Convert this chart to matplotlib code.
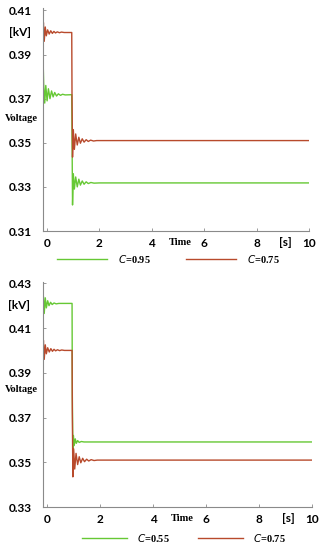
import matplotlib
matplotlib.use("Agg")
import matplotlib.pyplot as plt
from matplotlib.transforms import blended_transform_factory

GREEN = "#66c834"
RED = "#b84a2c"
AXIS = "#8a8a8a"

# time points (s) and voltage (kV)
t_c075 = [-0.15, -0.13, -0.10, -0.06, -0.02, 0.03, 0.09, 0.15, 0.21, 0.27, 0.33,
          0.40, 0.48, 0.56, 0.66, 0.95, 0.96, 0.98, 1.01, 1.05, 1.10, 1.16,
          1.22, 1.28, 1.35, 1.42, 1.50, 1.58, 1.67, 1.78, 1.90, 10.0]
v_c075 = [0.4000, 0.4045, 0.3960, 0.4025, 0.3985, 0.4012, 0.3993, 0.4008, 0.3996,
          0.4005, 0.3998, 0.4003, 0.3999, 0.4002, 0.4000, 0.4000, 0.3720, 0.3435,
          0.3560, 0.3470, 0.3540, 0.3490, 0.3525, 0.3498, 0.3518, 0.3503, 0.3514,
          0.3506, 0.3512, 0.3508, 0.3510, 0.3510]

t_c095 = [-0.15, -0.12, -0.08, -0.04, 0.01, 0.06, 0.12, 0.18, 0.24, 0.30, 0.37,
          0.44, 0.52, 0.60, 0.70, 0.95, 0.96, 0.98, 1.01, 1.05, 1.10, 1.16,
          1.22, 1.28, 1.35, 1.42, 1.50, 1.58, 1.68, 1.80, 2.00, 10.0]
v_c095 = [0.3910, 0.3765, 0.3680, 0.3760, 0.3690, 0.3745, 0.3700, 0.3735, 0.3708,
          0.3728, 0.3712, 0.3722, 0.3715, 0.3720, 0.3717, 0.3718, 0.3550, 0.3218,
          0.3360, 0.3290, 0.3345, 0.3300, 0.3335, 0.3308, 0.3327, 0.3312, 0.3323,
          0.3315, 0.3320, 0.3317, 0.3318, 0.3318]

t_c055 = [-0.15, -0.13, -0.10, -0.06, -0.02, 0.03, 0.08, 0.14, 0.20, 0.27, 0.35,
          0.45, 0.95, 0.96, 0.98, 1.00, 1.03, 1.07, 1.11, 1.16, 1.22, 1.30,
          1.40, 10.0]
v_c055 = [0.4215, 0.4240, 0.4165, 0.4235, 0.4190, 0.4222, 0.4200, 0.4215, 0.4205,
          0.4212, 0.4208, 0.4210, 0.4210, 0.3800, 0.3560, 0.3620, 0.3575, 0.3605,
          0.3585, 0.3597, 0.3589, 0.3593, 0.3591, 0.3591]

x_ticks = [0, 2, 4, 6, 8, 10]
y_ticks_top = [0.31, 0.33, 0.35, 0.37, 0.39, 0.41]
y_ticks_bot = [0.33, 0.35, 0.37, 0.39, 0.41, 0.43]

TICK_FONT = dict(family="Lato", weight="bold", size=8.5)
SERIF_FONT = dict(family="Liberation Serif", weight="bold", size=7.5)


def style_axes(ax, yticks, ylim, kv_y, volt_y):
    ax.set_xlim(-0.15, 10)
    ax.set_ylim(*ylim)
    ax.set_xticks(x_ticks)
    ax.set_yticks(yticks)
    ax.set_xticklabels([str(x) for x in x_ticks], fontdict=TICK_FONT)
    ax.set_yticklabels([f"{y:.2f}" for y in yticks], fontdict=TICK_FONT)
    ax.tick_params(direction="in", length=2.5, width=0.6, color=AXIS, pad=5)
    ax.tick_params(axis="y", pad=8)
    for side in ("top", "right"):
        ax.spines[side].set_visible(False)
    for side in ("left", "bottom"):
        ax.spines[side].set_color(AXIS)
        ax.spines[side].set_linewidth(0.8)
    tr = blended_transform_factory(ax.transAxes, ax.transData)
    ax.text(-0.087, kv_y, "[kV]", transform=tr, ha="center", va="center", **TICK_FONT)
    ax.text(-0.080, volt_y, "Voltage", transform=tr, ha="center", va="center", **SERIF_FONT)
    trx = blended_transform_factory(ax.transData, ax.transAxes)
    ax.text(5.1, -0.052, "Time", transform=trx, ha="center", va="center", **SERIF_FONT)
    ax.text(9.1, -0.052, "[s]", transform=trx, ha="center", va="center", **TICK_FONT)


fig = plt.figure(figsize=(3.25, 5.5), dpi=100)

ax1 = fig.add_axes([0.132, 0.580, 0.819, 0.405])
ax1.plot(t_c095, v_c095, color=GREEN, linewidth=1.0, label="$C$=0.95")
ax1.plot(t_c075, v_c075, color=RED, linewidth=1.0, label="$C$=0.75")
style_axes(ax1, y_ticks_top, (0.31, 0.411), 0.400, 0.361)
fig.legend(*ax1.get_legend_handles_labels(), loc="center", bbox_to_anchor=(0.518, 0.529),
           ncol=2, frameon=False, handlelength=4.8, handletextpad=1.1, columnspacing=3.3,
           prop=dict(family="Liberation Serif", weight="bold", size=7.5))

ax2 = fig.add_axes([0.132, 0.078, 0.828, 0.409])
ax2.plot(t_c055, v_c055, color=GREEN, linewidth=1.0, label="$C$=0.55")
ax2.plot(t_c075, v_c075, color=RED, linewidth=1.0, label="$C$=0.75")
style_axes(ax2, y_ticks_bot, (0.33, 0.4305), 0.420, 0.3825)
fig.legend(*ax2.get_legend_handles_labels(), loc="center", bbox_to_anchor=(0.566, 0.022),
           ncol=2, frameon=False, handlelength=4.3, handletextpad=1.0, columnspacing=2.7,
           prop=dict(family="Liberation Serif", weight="bold", size=7.5))

fig.savefig("out.png", dpi=100)
